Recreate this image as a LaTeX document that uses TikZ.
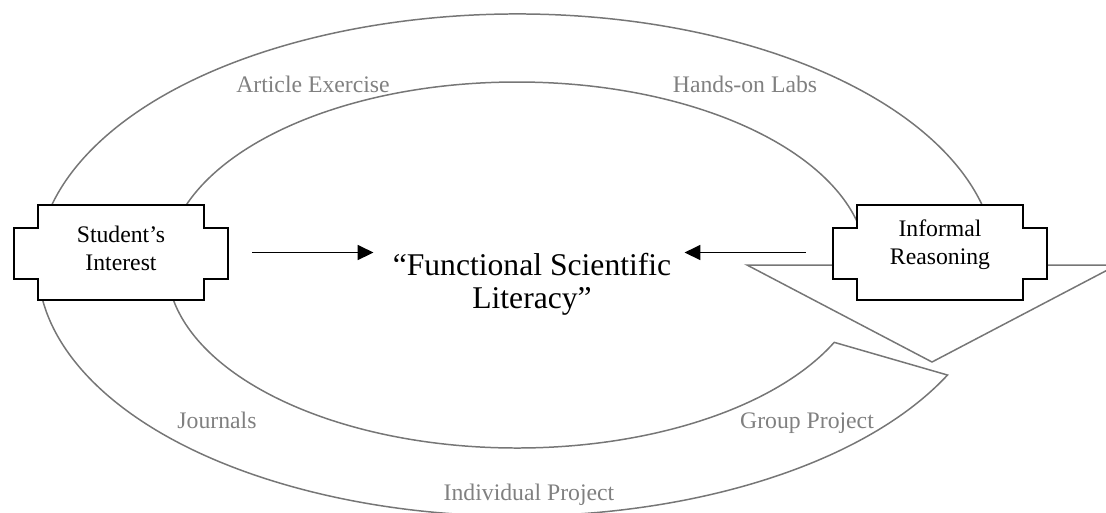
\documentclass[tikz,border=0pt]{standalone}
\usepackage{fontspec}
\setmainfont{Liberation Serif}
\usetikzlibrary{arrows.meta}
\definecolor{bandgray}{RGB}{118,118,118}
\definecolor{labelgray}{RGB}{128,128,128}

\begin{document}
\begin{tikzpicture}[x=0.02cm,y=-0.02cm,
	band/.style={draw=bandgray,line width=0.85pt},
	boxshape/.style={minimum width=4.28cm,minimum height=1.9cm,inner sep=0pt},
	boxline/.style={draw=black,fill=white,line width=1.2pt},
	boxtext/.style={align=center,font=\fontsize{13.5}{15.9}\selectfont},
	lbl/.style={anchor=base,text=labelgray,font=\fontsize{13.5}{16}\selectfont},
	arr/.style={-{Triangle[length=9pt,width=8.5pt]},line width=1.1pt}]
	\useasboundingbox (0,0) rectangle (1106,512);
	\clip (0,0) rectangle (1106,512);

	% curved band with its arrow head
	\coordinate (ctr) at (517,265);
	\draw[band] (ctr) ++(26:479 and 251) arc[start angle=26,end angle=360,x radius=479,y radius=251]
		-- (1117,265) -- (932,362) -- (747,265) -- (867,265)
		arc[start angle=360,end angle=25,x radius=350,y radius=183] -- cycle;

	\node[lbl] (artex) at (313,92) {Article Exercise};
	\node[lbl] (labs) at (745,92) {Hands-on Labs};
	\node[lbl] (journ) at (217,428) {Journals};
	\node[lbl] (group) at (807,428) {Group Project};
	\node[lbl] (indiv) at (529,500) {Individual Project};

	% the two boxes
	\node[boxshape] (stud) at (121,252.5) {};
	\node[boxshape] (inf) at (940,252.5) {};
	\foreach \n in {stud,inf}
	{
		\filldraw[boxline] (\n.north west) ++(24,0) -- ++(166,0) -- ++(0,23) -- ++(24,0) -- ++(0,51) -- ++(-24,0)
			-- ++(0,21) -- ++(-166,0) -- ++(0,-21) -- ++(-24,0) -- ++(0,-51) -- ++(24,0) -- cycle;
	}
	\node[boxtext] (studtxt) at (121,248) {Student’s\\Interest};
	\node[boxtext] (inftxt) at (940,244.5) {Informal\\Reasoning};

	\node[font=\fontsize{18}{18.7}\selectfont,align=center,inner sep=0pt] (lit) at (532,284) {“Functional Scientific\\Literacy”};

	\draw[arr,shorten <=0.48cm,shorten >=0.38cm] (stud.east) -- (stud.east -| lit.west);
	\draw[arr,shorten <=0.54cm,shorten >=0.26cm] (inf.west) -- (inf.west -| lit.east);
\end{tikzpicture}
\end{document}
